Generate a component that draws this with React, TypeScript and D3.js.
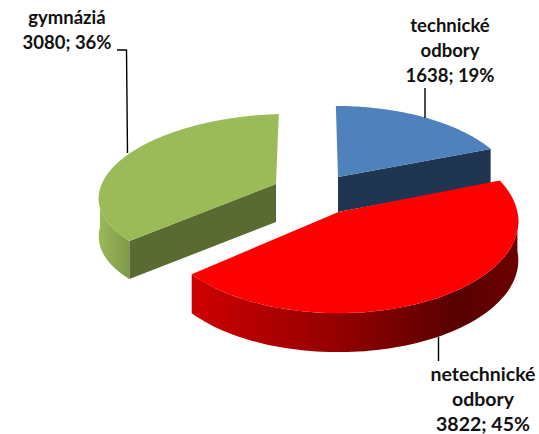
import React from "react";
import * as d3 from "d3";

const categories = ["technické odbory", "netechnické odbory", "gymnáziá"];
const labelLines = [["technické", "odbory"], ["netechnické", "odbory"], ["gymnáziá"]];
const values = [1638, 3822, 3080];
const topColors = ["#4f81bd", "#ff0000", "#9bbb59"];
const wallColors = ["#1f3552", "#8a0000", "#5a6b32"];

const W = 539, H = 434;
// tilted-disc projection
const R = 180, A = 83.5;
const centers = [
  { cx: 338, cy: 177, depth: 35, rx: 0.97, ry: 1, sx: 0.03, sy: 0, k: 0.175 },
  { cx: 338.5, cy: 212, depth: 39, rx: 0.994, ry: 1.09, sx: 0, sy: 0, k: 0.1 },
  { cx: 276, cy: 184, depth: 38, rx: 0.978, ry: 0.922, sx: -0.04, sy: -0.03, k: 0.1 },
];
const labelPos = [
  { x: 450, y: 32 },
  { x: 483, y: 381 },
  { x: 67, y: 24 },
];
const labelSizes = [18.5, 19.5, 18.5];
const leaders: [number, number][][] = [
  [[425, 88], [425, 118]],
  [[438.5, 337], [438.5, 361]],
  [[117, 50], [126.5, 50], [127.5, 153]],
];

const pieGen = d3.pie<number>().sort(null);
const arcs = pieGen(values);
const total = d3.sum(values);

function project(i: number, t: number, rad = 1, dz = 0): [number, number] {
  const c = centers[i];
  const X = Math.sin(t) * rad, Y = Math.cos(t) * rad;
  const d = 1 + c.k * Y;
  const dx = (R * c.rx * X) / d;
  const dy = (-A * c.ry * Y) / d;
  return [c.cx + dx + c.sx * dy, c.cy + dy + c.sy * dx + dz];
}
const line = d3.line();

function arcPts(i: number, a0: number, a1: number, dz = 0) {
  return d3.range(0, 81).map((k) => project(i, a0 + ((a1 - a0) * k) / 80, 1, dz));
}
function topPath(i: number) {
  const a = arcs[i];
  return line([project(i, 0, 0), ...arcPts(i, a.startAngle, a.endAngle)])! + "Z";
}
function wallPath(i: number, a0: number, a1: number, depth: number) {
  return line([...arcPts(i, a0, a1), ...arcPts(i, a0, a1, depth).reverse()])! + "Z";
}
function cutPath(i: number, t: number, depth: number) {
  const apex = project(i, 0, 0);
  const rim = project(i, t);
  return line([apex, rim, [rim[0], rim[1] + depth], [apex[0], apex[1] + depth]])! + "Z";
}

const redStops = [
  { o: "0%", c: "#cf0000" },
  { o: "45%", c: "#930000" },
  { o: "82%", c: "#570000" },
  { o: "100%", c: "#6e0000" },
];
const greenStops = [
  { o: "0%", c: "#9ab85a" },
  { o: "100%", c: "#7c9646" },
];

export default function App() {
  const [blue, red, green] = [0, 1, 2].map((i) => centers[i]);
  return (
    <svg width={W} height={H} viewBox={`0 0 ${W} ${H}`} style={{ position: "absolute", left: 0, top: 0, background: "#fff" }}>
      <defs>
        <linearGradient id="redWall" gradientUnits="userSpaceOnUse" x1={189} x2={520} y1={0} y2={0}>
          {redStops.map((s) => <stop key={s.o} offset={s.o} stopColor={s.c} />)}
        </linearGradient>
        <linearGradient id="greenWall" gradientUnits="userSpaceOnUse" x1={100} x2={132} y1={0} y2={0}>
          {greenStops.map((s) => <stop key={s.o} offset={s.o} stopColor={s.c} />)}
        </linearGradient>
      </defs>
      {/* blue */}
      <path d={cutPath(0, arcs[0].endAngle, blue.depth)} fill={wallColors[0]} />
      <path d={topPath(0)} fill={topColors[0]} />
      {/* green */}
      <path d={wallPath(2, arcs[2].startAngle, Math.PI * 1.5, green.depth)} fill="url(#greenWall)" />
      <path d={cutPath(2, arcs[2].startAngle, green.depth)} fill={wallColors[2]} />
      <path d={topPath(2)} fill={topColors[2]} />
      {/* red */}
      <path d={wallPath(1, Math.PI * 0.5, arcs[1].endAngle, red.depth)} fill="url(#redWall)" />
      <path d={topPath(1)} fill={topColors[1]} />
      {/* leaders */}
      {leaders.map((l, i) => (
        <path key={i} d={line(l)!} fill="none" stroke="#000" strokeWidth={1.4} />
      ))}
      {/* labels */}
      {categories.map((cat, i) => {
        const lines = [...labelLines[i], `${values[i]}; ${Math.round((values[i] / total) * 100)}%`];
        return (
          <text key={cat} fontFamily="Lato, 'Open Sans', sans-serif" fontWeight={700} fontSize={labelSizes[i]} fill="#111" textAnchor="middle">
            {lines.map((t, k) => (
              <tspan key={k} x={labelPos[i].x} y={labelPos[i].y + k * 25}>{t}</tspan>
            ))}
          </text>
        );
      })}
    </svg>
  );
}
